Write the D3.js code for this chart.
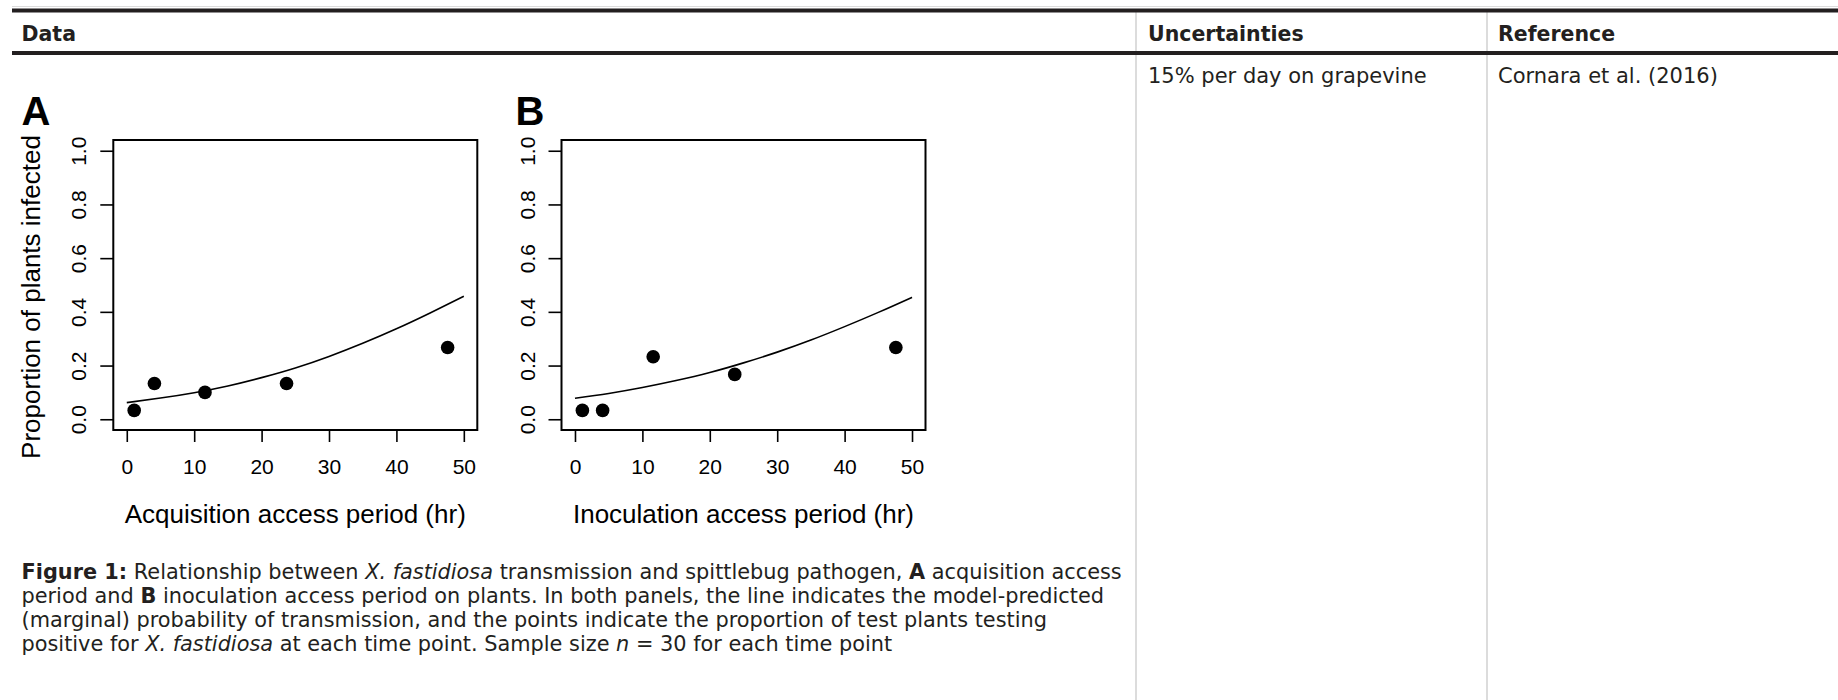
<!DOCTYPE html>
<html>
<head>
<meta charset="utf-8">
<script src="https://cdn.jsdelivr.net/npm/d3@7/dist/d3.min.js"></script>
<style>
  html, body { margin: 0; padding: 0; background: #fff; }
  svg { display: block; }
</style>
</head>
<body>
<svg id="page" width="1838" height="700"></svg>
<script>
// ---- data ----------------------------------------------------------------
const xTicks = [0, 10, 20, 30, 40, 50];
const yTicks = [0, 0.2, 0.4, 0.6, 0.8, 1.0];

// time points (hr) and observed proportion of plants infected (n = 30)
const periodsHr = [1.1, 4.1, 11.6, 23.7, 47.6];
const acquisitionObserved = [0.033, 0.133, 0.100, 0.133, 0.267];
const inoculationObserved = [0.033, 0.033, 0.233, 0.167, 0.267];

// model-predicted (marginal) probability of transmission
const fitHr = [0, 5, 10, 15, 20, 25, 30, 35, 40, 45, 50];
const acquisitionFit = [0.062, 0.079, 0.099, 0.124, 0.155, 0.191, 0.234, 0.283, 0.337, 0.396, 0.458];
const inoculationFit = [0.078, 0.096, 0.118, 0.144, 0.174, 0.210, 0.250, 0.295, 0.345, 0.398, 0.454];

const panelLetters = ["A", "B"];
const xTitles = ["Acquisition access period (hr)", "Inoculation access period (hr)"];
const yTitle = "Proportion of plants infected";

const headers = ["Data", "Uncertainties", "Reference"];
const rowCells = ["15% per day on grapevine", "Cornara et al. (2016)"];

// caption lines: [text, style] runs
const captionLines = [
  [["Figure 1:", "b"], [" Relationship between ", ""], ["X. fastidiosa", "i"], [" transmission and spittlebug pathogen, ", ""], ["A", "b"], [" acquisition access", ""]],
  [["period and ", ""], ["B", "b"], [" inoculation access period on plants. In both panels, the line indicates the model-predicted", ""]],
  [["(marginal) probability of transmission, and the points indicate the proportion of test plants testing", ""]],
  [["positive for ", ""], ["X. fastidiosa", "i"], [" at each time point. Sample size ", ""], ["n", "i"], [" = 30 for each time point", ""]]
];

// ---- page table frame ------------------------------------------------------
const svg = d3.select("#page");
const W = 1838, H = 700;
const ink = "#231f20";
const tableFont = "'DejaVu Sans', Verdana, sans-serif";
const plotFont = "'Liberation Sans', Arial, Helvetica, sans-serif";

const colX = [21.5, 1148, 1498];
const colLines = [1136, 1487];

svg.append("line").attr("x1", 12).attr("x2", W).attr("y1", 6.5).attr("y2", 6.5)
  .attr("stroke", "#dcdcdc").attr("stroke-width", 1);

colLines.forEach(x => {
  svg.append("line").attr("x1", x).attr("x2", x).attr("y1", 9).attr("y2", H)
    .attr("stroke", "#dcdcdc").attr("stroke-width", 2);
});

[[8.5, 12.5], [51, 55]].forEach(([a, b]) => {
  svg.append("rect").attr("x", 12).attr("y", a).attr("width", W - 12).attr("height", b - a)
    .attr("fill", ink);
});

headers.forEach((h, i) => {
  svg.append("text").attr("x", colX[i]).attr("y", 41)
    .attr("font-family", tableFont).attr("font-weight", "bold").attr("font-size", 20.5)
    .attr("fill", ink).text(h);
});
rowCells.forEach((t, i) => {
  svg.append("text").attr("x", colX[i + 1]).attr("y", 83)
    .attr("font-family", tableFont).attr("font-size", 21)
    .attr("fill", ink).text(t);
});

// ---- caption ---------------------------------------------------------------
const cap = svg.append("text").attr("font-family", tableFont).attr("font-size", 20.85).attr("fill", ink)
  .attr("xml:space", "preserve");
captionLines.forEach((runs, li) => {
  runs.forEach((r, ri) => {
    const ts = cap.append("tspan").text(r[0]);
    if (ri === 0) ts.attr("x", 21.5).attr("y", 578.5 + li * 24);
    if (r[1] === "b") ts.attr("font-weight", "bold");
    if (r[1] === "i") ts.attr("font-style", "italic");
  });
});

// ---- scatter panels ----------------------------------------------------------
const panels = [
  { left: 113.3, letterX: 21.5, obs: acquisitionObserved, fit: acquisitionFit },
  { left: 561.5, letterX: 515.5, obs: inoculationObserved, fit: inoculationFit }
];
const boxW = 364, boxTop = 140, boxBottom = 430;

panels.forEach((p, k) => {
  const x = d3.scaleLinear().domain([-2, 52]).range([p.left, p.left + boxW]);
  const y = d3.scaleLinear().domain([-0.04, 1.04]).range([boxBottom, boxTop]);
  const g = svg.append("g");

  // x axis (below box)
  const ax = g.append("g").attr("transform", `translate(0,${boxBottom})`)
    .call(d3.axisBottom(x).tickValues(xTicks).tickSize(12).tickSizeOuter(0).tickFormat(d3.format("d")));
  ax.select(".domain").remove();
  ax.selectAll("line").attr("stroke", "#000").attr("stroke-width", 1.6);
  ax.selectAll("text").attr("font-family", plotFont).attr("font-size", 21).attr("fill", "#000")
    .attr("dy", null).attr("y", 44.3);

  // y axis (left of box), labels rotated as in base graphics
  const ay = g.append("g").attr("transform", `translate(${p.left},0)`)
    .call(d3.axisLeft(y).tickValues(yTicks).tickSize(13).tickSizeOuter(0).tickFormat(d3.format(".1f")));
  ay.select(".domain").remove();
  ay.selectAll("line").attr("stroke", "#000").attr("stroke-width", 1.6);
  ay.selectAll("text").attr("font-family", plotFont).attr("font-size", 21).attr("fill", "#000")
    .attr("x", null).attr("dy", null).attr("text-anchor", "middle")
    .attr("transform", "translate(-27,0) rotate(-90)");

  // plot box
  g.append("rect").attr("x", p.left).attr("y", boxTop).attr("width", boxW).attr("height", boxBottom - boxTop)
    .attr("fill", "none").attr("stroke", "#000").attr("stroke-width", 2);

  // fitted curve
  const line = d3.line().x((d, i) => x(fitHr[i])).y(d => y(d)).curve(d3.curveNatural);
  g.append("path").datum(p.fit).attr("d", line)
    .attr("fill", "none").attr("stroke", "#000").attr("stroke-width", 1.6);

  // observed points
  g.selectAll("circle.obs").data(p.obs).join("circle").attr("class", "obs")
    .attr("cx", (d, i) => x(periodsHr[i])).attr("cy", d => y(d)).attr("r", 6.8).attr("fill", "#000");

  // panel letter
  g.append("text").attr("x", p.letterX).attr("y", 125)
    .attr("font-family", plotFont).attr("font-weight", "bold").attr("font-size", 40).attr("fill", "#000")
    .text(panelLetters[k]);

  // x title
  g.append("text").attr("x", p.left + boxW / 2).attr("y", 523)
    .attr("text-anchor", "middle").attr("font-family", plotFont).attr("font-size", 26).attr("fill", "#000")
    .text(xTitles[k]);

  if (k === 0) {
    g.append("text").attr("transform", `translate(40,297) rotate(-90)`)
      .attr("text-anchor", "middle").attr("font-family", plotFont).attr("font-size", 26).attr("fill", "#000")
      .text(yTitle);
  }
});
</script>
</body>
</html>
